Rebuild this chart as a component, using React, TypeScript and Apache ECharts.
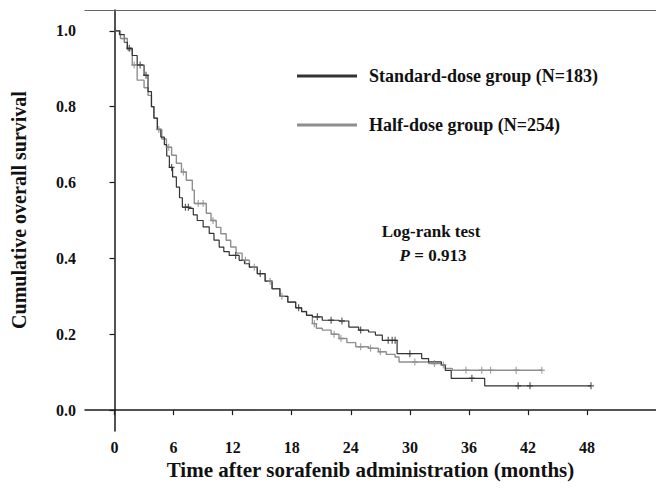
import React, { useEffect, useRef } from "react";
import * as echarts from "echarts";

const FONT = "Liberation Serif, Times New Roman, serif";

const xTicks = [0, 6, 12, 18, 24, 30, 36, 42, 48];
const yTicks = [0, 0.2, 0.4, 0.6, 0.8, 1.0];

const standardName = "Standard-dose group (N=183)";
const halfName = "Half-dose group (N=254)";

// Kaplan-Meier steps: [months, survival]
const standardSteps: [number, number][] = [
  [0, 1.0], [0.5, 0.99], [1.0, 0.97], [1.3, 0.954], [1.8, 0.935], [2.3, 0.91],
  [3.0, 0.883], [3.4, 0.84], [3.75, 0.8], [4.0, 0.77], [4.35, 0.74], [4.7, 0.72],
  [5.06, 0.7], [5.3, 0.67], [5.57, 0.64], [5.9, 0.615], [6.28, 0.588], [6.6, 0.56],
  [6.89, 0.535], [7.59, 0.532], [8.0, 0.515], [8.4, 0.5], [9.0, 0.483], [9.62, 0.466],
  [10.1, 0.448], [10.63, 0.43], [11.1, 0.418], [11.65, 0.408], [12.66, 0.395],
  [13.2, 0.386], [13.7, 0.377], [14.5, 0.36], [15.3, 0.34], [16.0, 0.32], [16.8, 0.3],
  [17.6, 0.285], [18.4, 0.27], [19.0, 0.26], [19.5, 0.25], [20.1, 0.246], [21.1, 0.237],
  [22.8, 0.235], [23.8, 0.219], [24.8, 0.211], [25.8, 0.206], [26.5, 0.198], [27.2, 0.184],
  [28.7, 0.149], [31.2, 0.136], [31.9, 0.127], [33.2, 0.119], [33.6, 0.105], [34.2, 0.084],
  [37.6, 0.064], [48.4, 0.064],
];

const halfSteps: [number, number][] = [
  [0, 1.0], [0.6, 0.98], [1.3, 0.95], [1.8, 0.91], [2.3, 0.87], [3.0, 0.85], [3.4, 0.83],
  [3.75, 0.8], [4.0, 0.77], [4.35, 0.74], [4.8, 0.715], [5.27, 0.693], [5.8, 0.672],
  [6.28, 0.651], [6.8, 0.628], [7.29, 0.606], [7.9, 0.58], [8.1, 0.545], [9.32, 0.519],
  [9.8, 0.5], [10.33, 0.482], [10.8, 0.465], [11.34, 0.448], [11.8, 0.43], [12.35, 0.414],
  [12.96, 0.395], [13.7, 0.377], [14.5, 0.36], [15.3, 0.34], [16.0, 0.32], [16.8, 0.3],
  [17.6, 0.285], [18.4, 0.27], [19.0, 0.26], [19.5, 0.25], [20.1, 0.228], [20.5, 0.216],
  [21.1, 0.211], [22.0, 0.2], [22.8, 0.189], [23.6, 0.178], [24.5, 0.167], [25.8, 0.163],
  [26.8, 0.154], [27.6, 0.147], [28.5, 0.14], [28.9, 0.127], [31.9, 0.123], [33.2, 0.119],
  [33.6, 0.11], [34.3, 0.105], [43.4, 0.105],
];

// censor marks
const standardCensored: [number, number][] = [
  [1.5, 0.954], [2.6, 0.91], [3.2, 0.883], [5.8, 0.64], [7.2, 0.535], [7.5, 0.535],
  [12.3, 0.408], [14.8, 0.36], [18.7, 0.27], [20.6, 0.246], [22.0, 0.237], [23.1, 0.235],
  [25.0, 0.211], [27.8, 0.184], [28.2, 0.184], [28.5, 0.184], [30.0, 0.149],
  [36.3, 0.084], [41.0, 0.064], [42.2, 0.064], [48.4, 0.064],
];

const halfCensored: [number, number][] = [
  [1.0, 0.98], [2.0, 0.91], [4.5, 0.74], [5.5, 0.693], [7.0, 0.628], [8.5, 0.545],
  [9.0, 0.545], [10.0, 0.5], [13.3, 0.395], [14.2, 0.377], [15.8, 0.34], [17.0, 0.3],
  [20.3, 0.228], [22.3, 0.2], [23.0, 0.189], [25.0, 0.167], [26.0, 0.163], [27.0, 0.154],
  [30.5, 0.127], [32.5, 0.123], [33.4, 0.119], [35.7, 0.105], [37.3, 0.105],
  [38.2, 0.105], [40.8, 0.105], [43.4, 0.105],
];

const DARK = "#333333";
const LIGHT = "#8e8e8e";
const PLUS = "path://M4,0 L6,0 L6,4 L10,4 L10,6 L6,6 L6,10 L4,10 L4,6 L0,6 L0,4 L4,4 Z";

export default function App() {
  const ref = useRef<HTMLDivElement>(null);
  useEffect(() => {
    if (!ref.current) return;
    const chart = echarts.init(ref.current, undefined, { renderer: "svg" });
    const axisLine = { show: true, lineStyle: { color: "#1a1a1a", width: 1.5 } };
    chart.setOption({
      animation: false,
      backgroundColor: "#ffffff",
      grid: { left: 85, top: 10, right: 0, bottom: 62 },
      legend: {
        data: [standardName, halfName],
        orient: "vertical",
        left: 297,
        top: 66,
        padding: 0,
        icon: "rect",
        itemWidth: 60,
        itemHeight: 3,
        itemGap: 29,
        textStyle: {
          fontFamily: FONT,
          fontWeight: "bold",
          fontSize: 18,
          color: "#111",
          lineHeight: 20,
          padding: [0, 0, 0, 7],
        },
      },
      xAxis: [
        {
          type: "value",
          min: -3,
          max: 55,
          axisLine,
          axisTick: { show: true, customValues: xTicks, length: 5, lineStyle: { color: "#1a1a1a", width: 1.2 } },
          axisLabel: {
            customValues: xTicks,
            fontFamily: FONT,
            fontWeight: "bold",
            fontSize: 16,
            color: "#111",
            margin: 8,
          },
          splitLine: { show: false },
          name: "Time after sorafenib administration (months)",
          nameLocation: "middle",
          nameGap: 28,
          nameTextStyle: { fontFamily: FONT, fontWeight: "bold", fontSize: 21, color: "#111" },
        },
        {
          type: "value",
          position: "top",
          min: -3,
          max: 55,
          axisLine: { show: true, lineStyle: { color: "#666", width: 1.2 } },
          axisTick: { show: false },
          axisLabel: { show: false },
          splitLine: { show: false },
        },
      ],
      yAxis: {
        type: "value",
        min: -0.055,
        max: 1.055,
        axisLine,
        axisTick: { show: true, customValues: yTicks, length: 5, lineStyle: { color: "#1a1a1a", width: 1.2 } },
        axisLabel: {
          customValues: yTicks,
          formatter: (v: number) => v.toFixed(1),
          fontFamily: FONT,
          fontWeight: "bold",
          fontSize: 16,
          color: "#111",
          margin: 9,
        },
        splitLine: { show: false },
      },
      graphic: [
        {
          type: "text",
          x: 19,
          y: 210,
          rotation: Math.PI / 2,
          style: {
            text: "Cumulative overall survival",
            font: `bold 20px ${FONT}`,
            fill: "#111",
            align: "center",
            verticalAlign: "middle",
          },
        },
        {
          type: "text",
          x: 431,
          y: 231,
          style: {
            text: "Log-rank test",
            font: `bold 17px ${FONT}`,
            fill: "#111",
            align: "center",
            verticalAlign: "middle",
          },
        },
        {
          type: "text",
          x: 433,
          y: 255,
          style: {
            text: "{i|P} = 0.913",
            font: `bold 17px ${FONT}`,
            fill: "#111",
            align: "center",
            verticalAlign: "middle",
            rich: { i: { font: `italic bold 17px ${FONT}`, fill: "#111" } },
          },
        },
      ],
      series: [
        {
          name: halfName,
          type: "line",
          step: "end",
          data: halfSteps,
          showSymbol: false,
          symbol: "none",
          lineStyle: { color: LIGHT, width: 1.4 },
          itemStyle: { color: LIGHT },
          z: 2,
        },
        {
          name: standardName,
          type: "line",
          step: "end",
          data: standardSteps,
          showSymbol: false,
          symbol: "none",
          lineStyle: { color: DARK, width: 1.2 },
          itemStyle: { color: DARK },
          z: 3,
        },
        {
          name: "Half-dose censored",
          type: "scatter",
          data: halfCensored,
          symbol: PLUS,
          symbolSize: [6, 7],
          itemStyle: { color: LIGHT },
          z: 4,
        },
        {
          name: "Standard-dose censored",
          type: "scatter",
          data: standardCensored,
          symbol: PLUS,
          symbolSize: [6, 7],
          itemStyle: { color: DARK },
          z: 5,
        },
      ],
    });
    return () => chart.dispose();
  }, []);
  return (
    <div
      ref={ref}
      style={{ position: "fixed", left: 0, top: 0, width: 656, height: 493 }}
    />
  );
}
